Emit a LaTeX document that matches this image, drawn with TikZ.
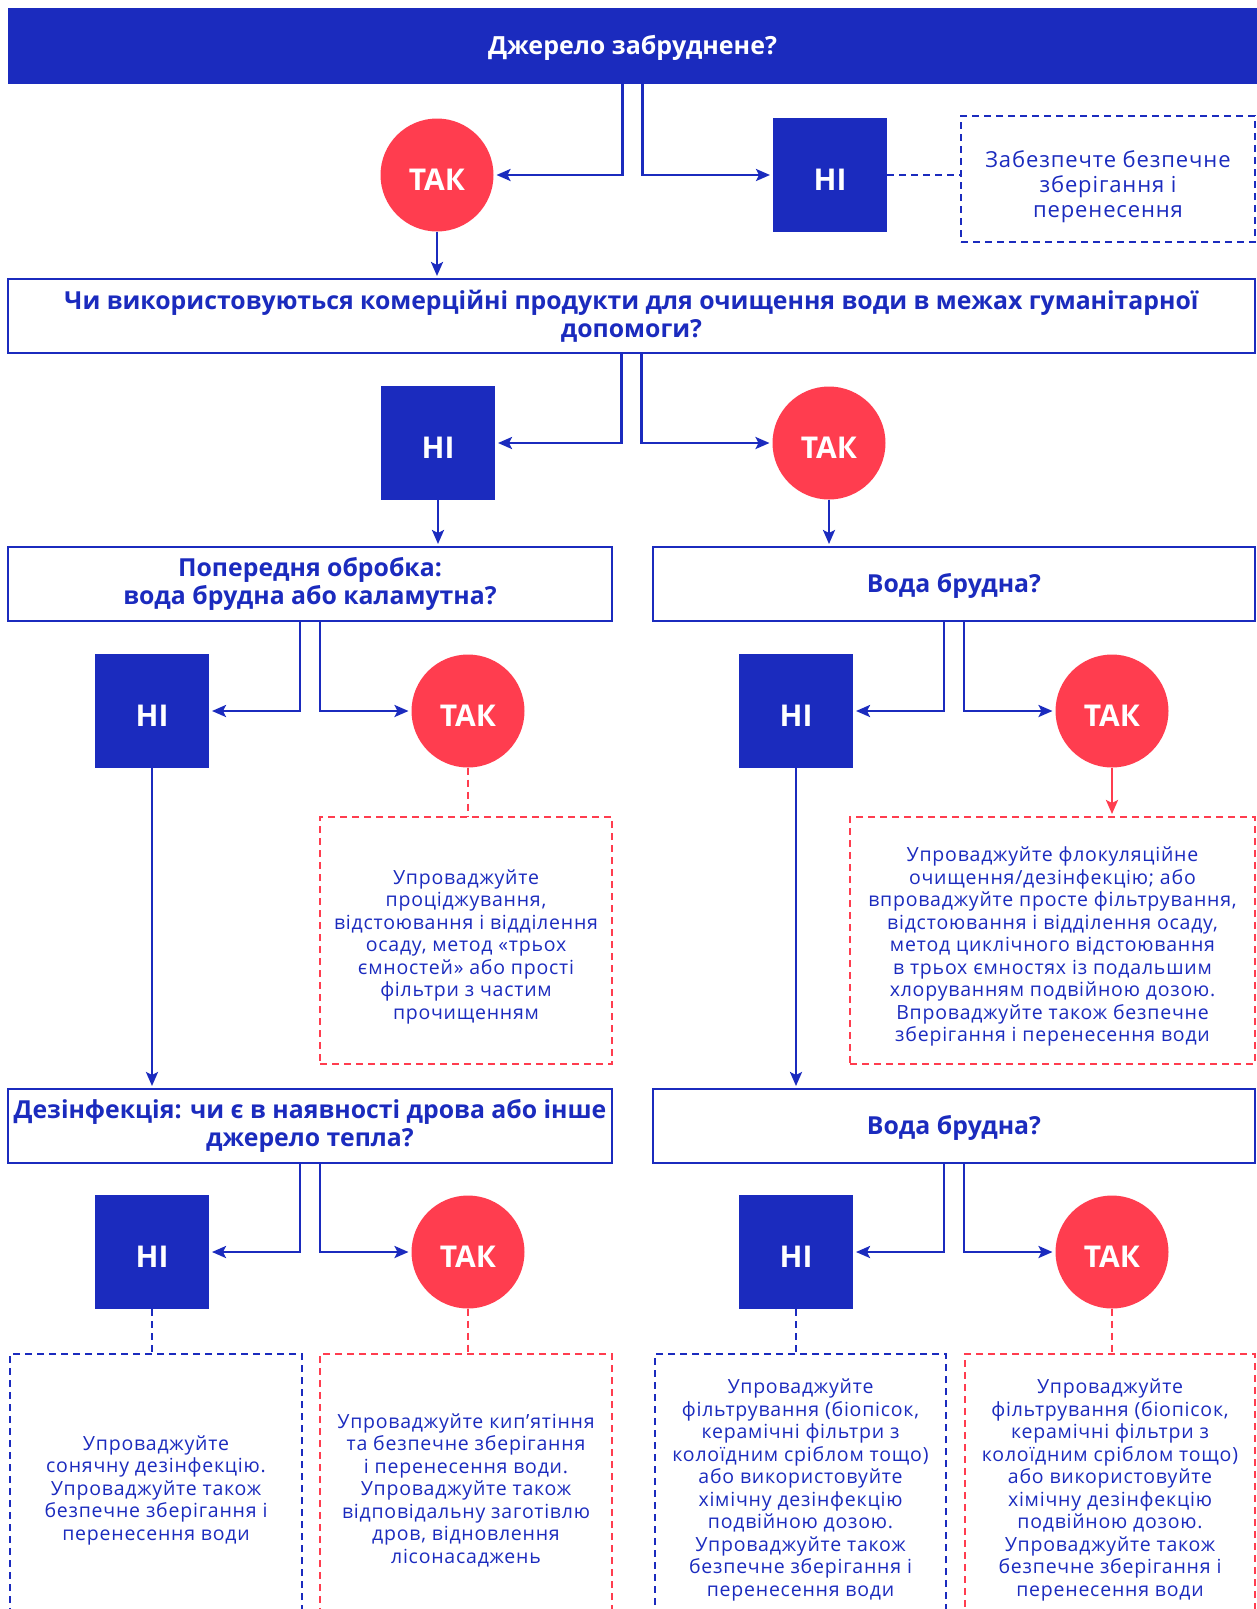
\documentclass[tikz,border=0pt]{standalone}
\usepackage{fontspec}
\setmainfont{Open Sans}
\usetikzlibrary{arrows.meta}
\definecolor{navy}{RGB}{27,43,190}
\definecolor{coral}{RGB}{255,61,79}

\begin{document}
\begin{tikzpicture}[x=1pt,y=-1pt,
    banner/.style={fill=navy,text=white,font=\bfseries\fontsize{25}{28}\selectfont,inner sep=0pt,outer sep=0pt,minimum height=76pt,execute at begin node={\rule{0pt}{23pt}}},
    question/.style={draw=navy,line width=2.2pt,fill=white,text=navy,align=center,font=\bfseries\fontsize{24.8}{28}\selectfont,inner sep=0pt,outer sep=0pt,minimum height=74pt,execute at begin node={\rule{0pt}{23pt}}},
    yes/.style={circle,fill=coral,text=white,font=\bfseries\fontsize{30}{32}\selectfont,inner sep=0pt,outer sep=0pt,minimum size=113pt,execute at begin node={\rule{0pt}{31pt}}},
    no/.style={rectangle,fill=navy,text=white,font=\bfseries\fontsize{30}{32}\selectfont,inner sep=0pt,outer sep=0pt,minimum size=114pt,execute at begin node={\rule{0pt}{31pt}}},
    advice/.style={line width=2.5pt,dash pattern=on 7pt off 5pt,inner sep=0pt,outer sep=0pt},
    blueadvice/.style={advice,draw=navy},
    redadvice/.style={advice,draw=coral},
    say/.style={text=navy,align=center,font=\fontsize{19.5}{22.5}\selectfont\addfontfeatures{LetterSpace=4},inner sep=0pt,yshift=#1},
    say/.default=-3pt,
    arr/.style={draw=navy,line width=2.5pt,-{Stealth[length=14pt,width=12pt,inset=3pt]},shorten >=3pt},
    bluelink/.style={draw=navy,line width=2.5pt,dash pattern=on 7pt off 5pt},
    redlink/.style={draw=coral,line width=2.5pt,dash pattern=on 7pt off 5pt}]
  \useasboundingbox (0,0) rectangle (1257,1609);
  \clip (0,0) rectangle (1257,1609);

  \node[banner,minimum width=1249pt] (src) at (632.5,46) {Джерело забруднене?};
  \node[yes] (yes1) at (437,175) {ТАК};
  \node[no] (no1) at (830,175) {НІ};
  \node[blueadvice,minimum width=294pt,minimum height=126pt,
    label={[say=-8pt,font=\fontsize{22}{25}\selectfont\addfontfeatures{LetterSpace=4}]center:{Забезпечте безпечне\\зберігання і\\перенесення}}] (store) at (1108,179) {};

  \node[question,minimum width=1247pt] (agency) at (631.5,316) {Чи використовуються комерційні продукти для очищення води в межах гуманітарної\\допомоги?};
  \node[no] (no2) at (438,443) {НІ};
  \node[yes] (yes2) at (829,443) {ТАК};

  \node[question,minimum width=604pt] (pretreat) at (310,584) {Попередня обробка:\\вода брудна або каламутна?};
  \node[question,minimum width=602pt] (dirty1) at (954,584) {Вода брудна?};
  \node[no] (no3) at (152,711) {НІ};
  \node[yes] (yes3) at (468,711) {ТАК};
  \node[no] (no4) at (796,711) {НІ};
  \node[yes] (yes4) at (1112,711) {ТАК};
  \node[redadvice,minimum width=292pt,minimum height=247pt,
    label={[say=-6pt]center:{Упроваджуйте\\проціджування,\\відстоювання і відділення\\осаду, метод «трьох\\ємностей» або прості\\фільтри з частим\\прочищенням}}] (strain) at (466,940.5) {};
  \node[redadvice,minimum width=405pt,minimum height=247pt,
    label={[say=-6pt]center:{Упроваджуйте флокуляційне\\очищення/дезінфекцію; або\\впроваджуйте просте фільтрування,\\відстоювання і відділення осаду,\\метод циклічного відстоювання\\в трьох ємностях із подальшим\\хлоруванням подвійною дозою.\\Впроваджуйте також безпечне\\зберігання і перенесення води}}] (floc) at (1052.5,940.5) {};

  \node[question,minimum width=604pt] (heat) at (310,1126) {Дезінфекція: чи є в наявності дрова або інше\\джерело тепла?};
  \node[question,minimum width=602pt] (dirty2) at (954,1126) {Вода брудна?};
  \node[no] (no5) at (152,1252) {НІ};
  \node[yes] (yes5) at (468,1252) {ТАК};
  \node[no] (no6) at (796,1252) {НІ};
  \node[yes] (yes6) at (1112,1252) {ТАК};
  \node[blueadvice,minimum width=292pt,minimum height=266pt,
    label={[say]center:{Упроваджуйте\\сонячну дезінфекцію.\\Упроваджуйте також\\безпечне зберігання і\\перенесення води}}] (solar) at (156,1487) {};
  \node[redadvice,minimum width=292pt,minimum height=266pt,
    label={[say]center:{Упроваджуйте кип’ятіння\\та безпечне зберігання\\і перенесення води.\\Упроваджуйте також\\відповідальну заготівлю\\дров, відновлення\\лісонасаджень}}] (boil) at (466,1487) {};
  \node[blueadvice,minimum width=291pt,minimum height=266pt,
    label={[say]center:{Упроваджуйте\\фільтрування (біопісок,\\керамічні фільтри з\\колоїдним сріблом тощо)\\або використовуйте\\хімічну дезінфекцію\\подвійною дозою.\\Упроваджуйте також\\безпечне зберігання і\\перенесення води}}] (filter1) at (800.5,1487) {};
  \node[redadvice,minimum width=290pt,minimum height=266pt,
    label={[say]center:{Упроваджуйте\\фільтрування (біопісок,\\керамічні фільтри з\\колоїдним сріблом тощо)\\або використовуйте\\хімічну дезінфекцію\\подвійною дозою.\\Упроваджуйте також\\безпечне зберігання і\\перенесення води}}] (filter2) at (1110,1487) {};

  \draw[arr] ([xshift=-10pt]src.south) |- (yes1);
  \draw[arr] ([xshift=10pt]src.south) |- (no1);
  \draw[bluelink] (no1) -- (no1 -| store.west);
  \draw[arr] (yes1) -- (yes1 |- agency.north);
  \draw[arr] ([xshift=-10pt]agency.south) |- (no2);
  \draw[arr] ([xshift=10pt]agency.south) |- (yes2);
  \draw[arr] (no2) -- (no2 |- pretreat.north);
  \draw[arr] (yes2) -- (yes2 |- dirty1.north);
  \draw[arr] ([xshift=-10pt]pretreat.south) |- (no3);
  \draw[arr] ([xshift=10pt]pretreat.south) |- (yes3);
  \draw[arr] ([xshift=-10pt]dirty1.south) |- (no4);
  \draw[arr] ([xshift=10pt]dirty1.south) |- (yes4);
  \draw[redlink] (yes3) -- (yes3 |- strain.north);
  \draw[arr,draw=coral] (yes4) -- (yes4 |- floc.north);
  \draw[arr] (no3) -- (no3 |- heat.north);
  \draw[arr] (no4) -- (no4 |- dirty2.north);
  \draw[arr] ([xshift=-10pt]heat.south) |- (no5);
  \draw[arr] ([xshift=10pt]heat.south) |- (yes5);
  \draw[arr] ([xshift=-10pt]dirty2.south) |- (no6);
  \draw[arr] ([xshift=10pt]dirty2.south) |- (yes6);
  \draw[bluelink] (no5) -- (no5 |- solar.north);
  \draw[redlink] (yes5) -- (yes5 |- boil.north);
  \draw[bluelink] (no6) -- (no6 |- filter1.north);
  \draw[redlink] (yes6) -- (yes6 |- filter2.north);
\end{tikzpicture}
\end{document}
